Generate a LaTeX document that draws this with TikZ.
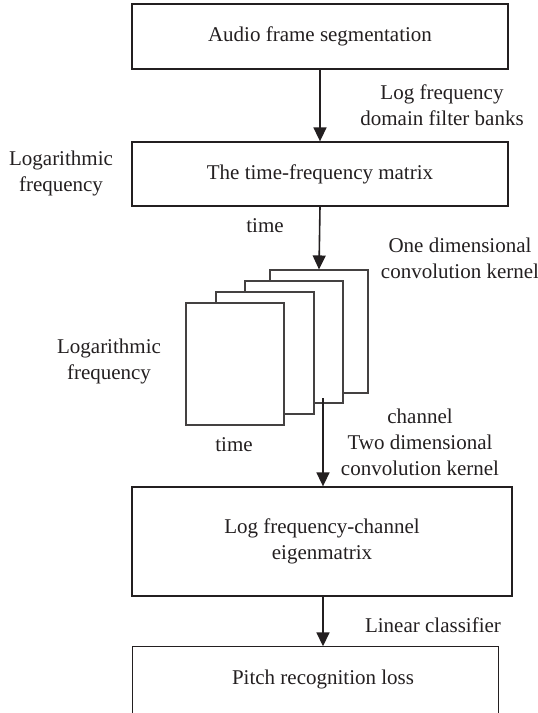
\documentclass[tikz,border=0pt]{standalone}
\usepackage{fontspec}
\setmainfont{Liberation Serif}
\usetikzlibrary{arrows.meta}
\definecolor{ink}{HTML}{231F20}
\begin{document}
\begin{tikzpicture}[x=1pt,y=-1pt,
  every node/.style={text=ink,font=\fontsize{21}{26}\selectfont,align=center,inner sep=0pt},
  box/.style={draw=ink,line width=1.3pt,rectangle},
  sheet/.style={draw=ink!85,line width=1.1pt,fill=white,minimum width=98pt,minimum height=122pt},
  flow/.style={draw=ink,line width=1.6pt,-{Triangle[width=13pt,length=14pt]}}]
\useasboundingbox (0,0) rectangle (538,713);
% main boxes
\node[box,minimum width=376pt,minimum height=65pt] (b1) at (320,36.5) {Audio frame segmentation};
\node[box,minimum width=376pt,minimum height=64pt] (b2) at (320,174) {The time-frequency matrix};
\node[box,minimum width=380pt,minimum height=109pt] (b3) at (322,541.5) {Log frequency-channel\\eigenmatrix};
\node[minimum width=365pt,minimum height=67pt] (b4) at (315.5,680) {};
\draw[ink,line width=1.3pt] (b4.south west) |- (b4.north east) -- (b4.south east);
\node (t4) at (323,679) {Pitch recognition loss};
% stack of feature maps
\node[sheet,minimum height=123pt] (r4) at (319,331.5) {};
\node[sheet] (r3) at (294,342) {};
\node[sheet] (r2) at (265,353) {};
\node[sheet] (r1) at (235,364) {};
% connectors
\coordinate (c3) at (323,398);
\draw[flow] (b1.south) -- (b2.north);
\draw[flow] (b2.south) -- (r4.north);
\draw[flow] (c3) -- (c3 |- b3.north);
\draw[flow] (c3 |- b3.south) -- (c3 |- b4.north);
% labels
\node (l1) at (442,105) {Log frequency\\domain filter banks};
\node (l2) at (61,173) {Logarithmic\\frequency};
\node (l3) at (265,226) {time};
\node (l4) at (460,258.5) {One dimensional\\convolution kernel};
\node (l5) at (109,361) {Logarithmic\\frequency};
\node (l6) at (234,445) {time};
\node (l7) at (420,442) {channel\\Two dimensional\\convolution kernel};
\node (l8) at (433,625) {Linear classifier};
\end{tikzpicture}
\end{document}
